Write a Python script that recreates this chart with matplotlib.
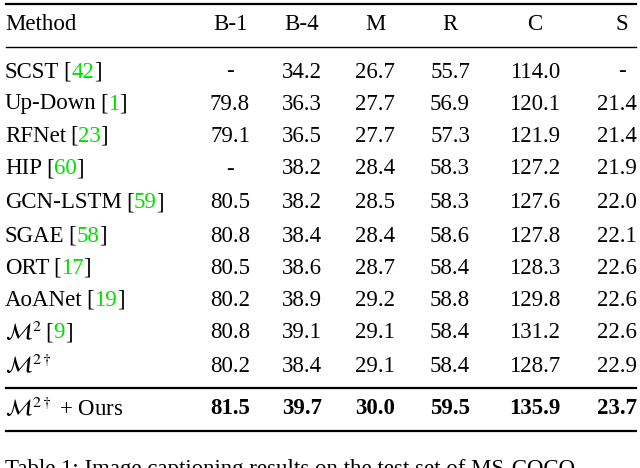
import matplotlib
matplotlib.use("Agg")
import matplotlib.pyplot as plt

plt.rcParams['font.family'] = ['Liberation Serif', 'DejaVu Serif']
plt.rcParams['mathtext.fontset'] = 'stix'

headers = ['B-1', 'B-4', 'M', 'R', 'C', 'S']
methods = ['SCST', 'Up-Down', 'RFNet', 'HIP', 'GCN-LSTM', 'SGAE', 'ORT', 'AoANet',
           r'$\mathcal{M}^2$', r'$\mathcal{M}^{2\dagger}$', r'$\mathcal{M}^{2\dagger}$ + Ours']
cites = ['42', '1', '23', '60', '59', '58', '17', '19', '9', None, None]
b1 = ['-', '79.8', '79.1', '-', '80.5', '80.8', '80.5', '80.2', '80.8', '80.2', '81.5']
b4 = ['34.2', '36.3', '36.5', '38.2', '38.2', '38.4', '38.6', '38.9', '39.1', '38.4', '39.7']
met = ['26.7', '27.7', '27.7', '28.4', '28.5', '28.4', '28.7', '29.2', '29.1', '29.1', '30.0']
rouge = ['55.7', '56.9', '57.3', '58.3', '58.3', '58.6', '58.4', '58.8', '58.4', '58.4', '59.5']
cider = ['114.0', '120.1', '121.9', '127.2', '127.6', '127.8', '128.3', '129.8', '131.2', '128.7', '135.9']
spice = ['-', '21.4', '21.4', '21.9', '22.0', '22.1', '22.6', '22.6', '22.6', '22.9', '23.7']

W, H = 640, 468
fig = plt.figure(figsize=(6.4, 4.68), dpi=100)
ax = fig.add_axes([0, 0, 1, 1])
ax.set_xlim(0, W)
ax.set_ylim(H, 0)
ax.axis('off')

fs = 16.5
col_x = [230, 302, 375, 450, 535, 622]
row_y = [72, 104, 136, 169, 203, 236, 268, 300, 333, 366, 409]

ax.text(5, 25, 'Method', fontsize=fs, va='center')
for x, h in zip(col_x, headers):
    ax.text(x, 25, h, fontsize=fs, va='center', ha='center')

for lw, y in [(1.6, 4), (1.0, 47), (1.6, 388), (1.6, 431)]:
    ax.plot([6, 636], [y, y], color='black', lw=lw)

fig.canvas.draw()
r = fig.canvas.get_renderer()
cols = [b1, b4, met, rouge, cider, spice]
for i, y in enumerate(row_y):
    last = i == len(row_y) - 1
    fw = 'bold' if last else 'normal'
    t = ax.text(5, y, methods[i], fontsize=fs, va='baseline' if False else 'center')
    if cites[i]:
        bb = t.get_window_extent(r)
        x0 = bb.x1 + 4
        for part, c in [('[', 'black'), (cites[i], '#00e000'), (']', 'black')]:
            t2 = ax.text(x0, H - y, part, fontsize=fs, va='center', color=c,
                         transform=None)
            x0 = t2.get_window_extent(r).x1
    for j, (x, col) in enumerate(zip(col_x, cols)):
        if j == len(cols) - 1 and col[i] != '-':
            ax.text(637, y, col[i], fontsize=fs, va='center', ha='right', fontweight=fw)
        else:
            ax.text(x, y, col[i], fontsize=fs, va='center', ha='center', fontweight=fw)

ax.text(5, 470, 'Table 1: Image captioning results on the test set of MS-COCO',
        fontsize=fs, va='center')

fig.savefig('out.png', dpi=100, facecolor='white')
